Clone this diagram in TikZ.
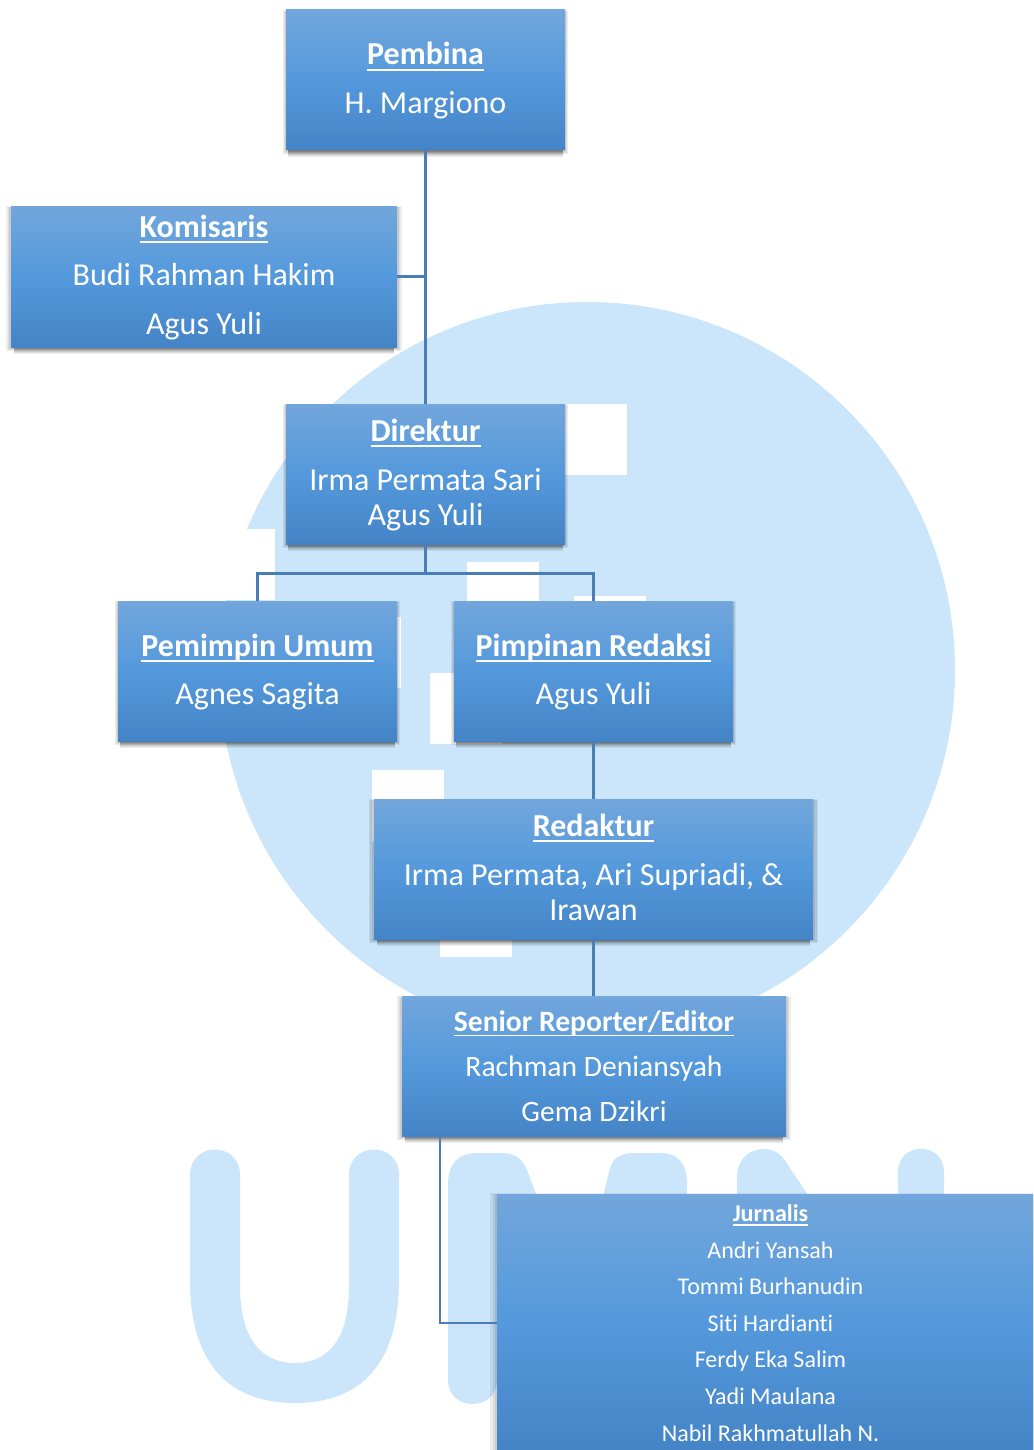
\documentclass[tikz,border=0pt]{standalone}
\usepackage{fontspec}
\setmainfont[Ligatures=NoCommon]{Carlito}
\usetikzlibrary{shadows,calc}
\definecolor{wm}{HTML}{CBE6FA}
\definecolor{linec}{HTML}{4A7DB6}
\definecolor{boxtop}{HTML}{72A6DC}
\definecolor{boxmid}{HTML}{5499DC}
\definecolor{boxbot}{HTML}{4484C6}
\newcommand\ulhead[1]{\setbox0\hbox{\bfseries #1}\hbox{\rlap{\vrule width \wd0 height -0.12em depth 0.175em}\box0}}
\newcommand\topstrut{\vrule width 0pt height 29pt depth 0pt\relax}
\newcommand\botstrut{\vrule width 0pt height 0pt depth 10.5pt\relax}
\tikzset{
  softring/.style 2 args={general shadow={shadow xshift=0pt, shadow yshift=-#1pt, shadow scale=#2, fill=black, opacity=0.07}},
  orgbox/.style={rectangle, inner sep=0pt, text=white, align=center,
    softring={2}{1.024}, softring={1.8}{1.016}, softring={1.5}{1.008},
    softring={8}{0.985}, softring={7}{0.985}, softring={6}{0.985}, softring={5}{0.985},
    softring={4}{0.985}, softring={3}{0.985}, softring={2}{0.985},
    top color=boxtop, bottom color=boxbot, middle color=boxmid},
  bigtext/.style={font=\fontsize{32}{35}\selectfont},
  midtext/.style={font=\fontsize{29.6}{33}\selectfont},
  smalltext/.style={font=\fontsize{24}{27}\selectfont},
  conn/.style={draw=linec, line width=2.8pt},
  thinconn/.style={draw=linec, line width=2.2pt},
  wmfill/.style={fill=wm},
  wmcut/.style={fill=white}
}
\begin{document}
\begin{tikzpicture}[x=1pt,y=-1pt]
\useasboundingbox (0,0) rectangle (1033,1450);
\clip (0,0) rectangle (1033,1450);
% watermark
\fill[wmfill] (587,670) circle[radius=368];
\foreach \x/\y in {555/404,467/562,574/596,329/617,430/673,372/770,440/886,203/529}
  \fill[wmcut] (\x,\y) rectangle ++(72,71);
% U
\fill[wmfill] (190,1175) .. controls (190,1141) and (240,1141) .. (240,1175) -- (240,1285)
  .. controls (240,1340) and (262,1363) .. (295,1363)
  .. controls (328,1363) and (349,1340) .. (349,1285) -- (349,1175)
  .. controls (349,1141) and (399,1141) .. (399,1175) -- (399,1280)
  .. controls (399,1365) and (360,1403) .. (295,1403)
  .. controls (230,1403) and (190,1365) .. (190,1280) -- cycle;
% M
\fill[wmfill] (448,1380) .. controls (448,1412) and (497,1412) .. (497,1380) -- (560,1260) -- (536,1194)
  -- (527,1170) .. controls (522,1158) and (515,1153) .. (500,1153) -- (478,1153)
  .. controls (458,1153) and (448,1163) .. (448,1185) -- cycle;
\fill[wmfill] (602,1200) -- (610,1168) .. controls (613,1158) and (620,1153) .. (635,1153) -- (660,1153)
  .. controls (680,1153) and (687,1165) .. (687,1185) -- (687,1200) -- cycle;
% N
\fill[wmfill] (737,1200) -- (737,1178) .. controls (737,1158) and (750,1149) .. (764,1149)
  .. controls (776,1149) and (783,1156) .. (790,1168) -- (811,1200) -- cycle;
\fill[wmfill] (898,1200) -- (898,1172) .. controls (898,1141) and (944,1141) .. (944,1172) -- (944,1200) -- cycle;
% boxes
\node[orgbox,bigtext,minimum width=279pt,minimum height=140pt] (pembina) at (425.5,80) {\topstrut\ulhead{Pembina}\\[13.5pt]H. Margiono\botstrut};
\node[orgbox,bigtext,minimum width=386pt,minimum height=141pt] (komisaris) at (204,276.5) {\topstrut\ulhead{Komisaris}\\[13.5pt]Budi Rahman Hakim\\[13.5pt]Agus Yuli\botstrut};
\node[orgbox,bigtext,minimum width=279pt,minimum height=140pt] (direktur) at (425.5,474) {\topstrut\ulhead{Direktur}\\[13.5pt]Irma Permata Sari\\Agus Yuli\botstrut};
\node[orgbox,bigtext,minimum width=279pt,minimum height=140pt] (umum) at (257.5,671) {\topstrut\ulhead{Pemimpin Umum}\\[13.5pt]Agnes Sagita\botstrut};
\node[orgbox,bigtext,minimum width=279pt,minimum height=140pt] (redaksi) at (593.5,671) {\topstrut\ulhead{Pimpinan Redaksi}\\[13.5pt]Agus Yuli\botstrut};
\node[orgbox,bigtext,minimum width=439pt,minimum height=140pt] (redaktur) at (593.5,869) {\topstrut\ulhead{Redaktur}\\[13.5pt]Irma Permata, Ari Supriadi, \&\\Irawan\botstrut};
\node[orgbox,midtext,minimum width=384pt,minimum height=140pt] (senior) at (594,1066) {\ulhead{Senior Reporter/Editor}\\[12pt]Rachman Deniansyah\\[12pt]Gema Dzikri};
\node[orgbox,smalltext,minimum width=547pt,minimum height=258pt] (jurnalis) at (770.5,1323) {\ulhead{Jurnalis}\\[9.6pt]Andri Yansah\\[9.6pt]Tommi Burhanudin\\[9.6pt]Siti Hardianti\\[9.6pt]Ferdy Eka Salim\\[9.6pt]Yadi Maulana\\[9.6pt]Nabil Rakhmatullah N.};
% connectors
\coordinate (kj) at (komisaris.east -| pembina.south);
\coordinate (dj) at ($(direktur.south)+(0,29)$);
\draw[conn] (pembina.south) -- (direktur.north);
\draw[conn] (komisaris.east) -- (kj);
\draw[conn] (direktur.south) -- (dj);
\draw[conn] (umum.north) |- (dj) -| (redaksi.north);
\draw[conn] (redaksi.south) -- (redaktur.north);
\draw[conn] (redaktur.south) -- (redaktur.south |- senior.north);
\coordinate (sb) at (440,1136);
\draw[thinconn] (sb) |- (jurnalis.west);
\end{tikzpicture}
\end{document}
